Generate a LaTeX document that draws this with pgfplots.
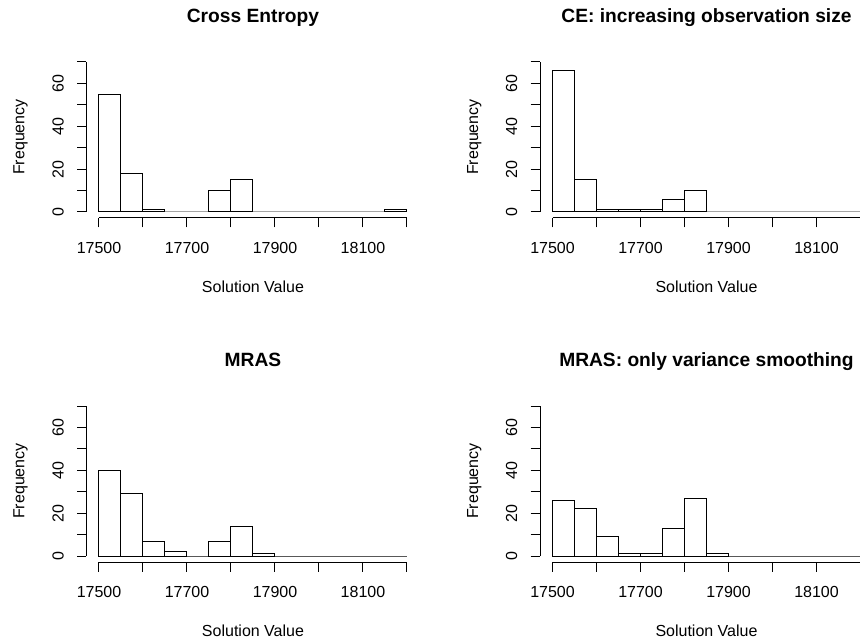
\documentclass[border=0pt]{standalone}
\usepackage{fontspec}
\setmainfont{Liberation Sans}
\usepackage{pgfplots}
\pgfplotsset{compat=1.18}
\pgfplotsset{rhist/.style={
  scale only axis, width=308pt, height=150pt,
  xmin=17500, xmax=18200, ymin=0, ymax=70,
  axis x line*=bottom, axis y line*=left,
  axis x line shift=6pt, axis y line shift=12.5pt,
  axis line style={line width=1pt, black},
  scaled x ticks=false, scaled y ticks=false,
  xtick={17500,17600,...,18200}, xticklabels={17500,,17700,,17900,,18100,},
  ytick={0,10,...,70}, yticklabels={0,,20,,40,,60,},
  tick align=outside, major tick length=9.5pt,
  tick style={black, line width=1pt},
  tick label style={font=\fontsize{16}{19}\selectfont, inner sep=0pt},
  xticklabel style={anchor=base}, xticklabel shift=26.2pt,
  yticklabel style={rotate=90, anchor=base}, yticklabel shift=13.5pt,
  label style={font=\fontsize{16}{19}\selectfont, inner sep=0pt},
  xlabel={Solution Value}, ylabel={Frequency},
  xlabel style={at={(axis description cs:0.5,-0.54)}, anchor=base},
  ylabel style={at={(axis description cs:-0.2419,0.5)}, anchor=base},
  title style={at={(axis description cs:0.5,1.2633)}, anchor=base, inner sep=0pt, yshift=-6pt,
    font=\bfseries\fontsize{19.2}{23}\selectfont},
  clip=false,
}}
\begin{document}
\begin{tikzpicture}
\path[use as bounding box] (0pt,0pt) rectangle (860pt,643pt);
\begin{axis}[rhist, at={(99pt,431pt)}, anchor=south west, title={Cross Entropy}]
\addplot[ybar interval, draw=black, fill=white, line width=1pt] coordinates {
(17500,55) (17550,18) (17600,1) (17650,0) (17700,0) (17750,10) (17800,15)
(17850,0) (17900,0) (17950,0) (18000,0) (18050,0) (18100,0) (18150,1) (18200,1)};
\end{axis}
\begin{axis}[rhist, at={(552.5pt,431pt)}, anchor=south west, title={CE: increasing observation size}]
\addplot[ybar interval, draw=black, fill=white, line width=1pt] coordinates {
(17500,66) (17550,15) (17600,1) (17650,1) (17700,1) (17750,6) (17800,10)
(17850,0) (17900,0) (17950,0) (18000,0) (18050,0) (18100,0) (18150,0) (18200,0)};
\end{axis}
\begin{axis}[rhist, at={(99pt,87pt)}, anchor=south west, title={MRAS}]
\addplot[ybar interval, draw=black, fill=white, line width=1pt] coordinates {
(17500,40) (17550,29) (17600,7) (17650,2) (17700,0) (17750,7) (17800,14)
(17850,1) (17900,0) (17950,0) (18000,0) (18050,0) (18100,0) (18150,0) (18200,0)};
\end{axis}
\begin{axis}[rhist, at={(552.5pt,87pt)}, anchor=south west, title={MRAS: only variance smoothing}]
\addplot[ybar interval, draw=black, fill=white, line width=1pt] coordinates {
(17500,26) (17550,22) (17600,9) (17650,1) (17700,1) (17750,13) (17800,27)
(17850,1) (17900,0) (17950,0) (18000,0) (18050,0) (18100,0) (18150,0) (18200,0)};
\end{axis}
\end{tikzpicture}
\end{document}
